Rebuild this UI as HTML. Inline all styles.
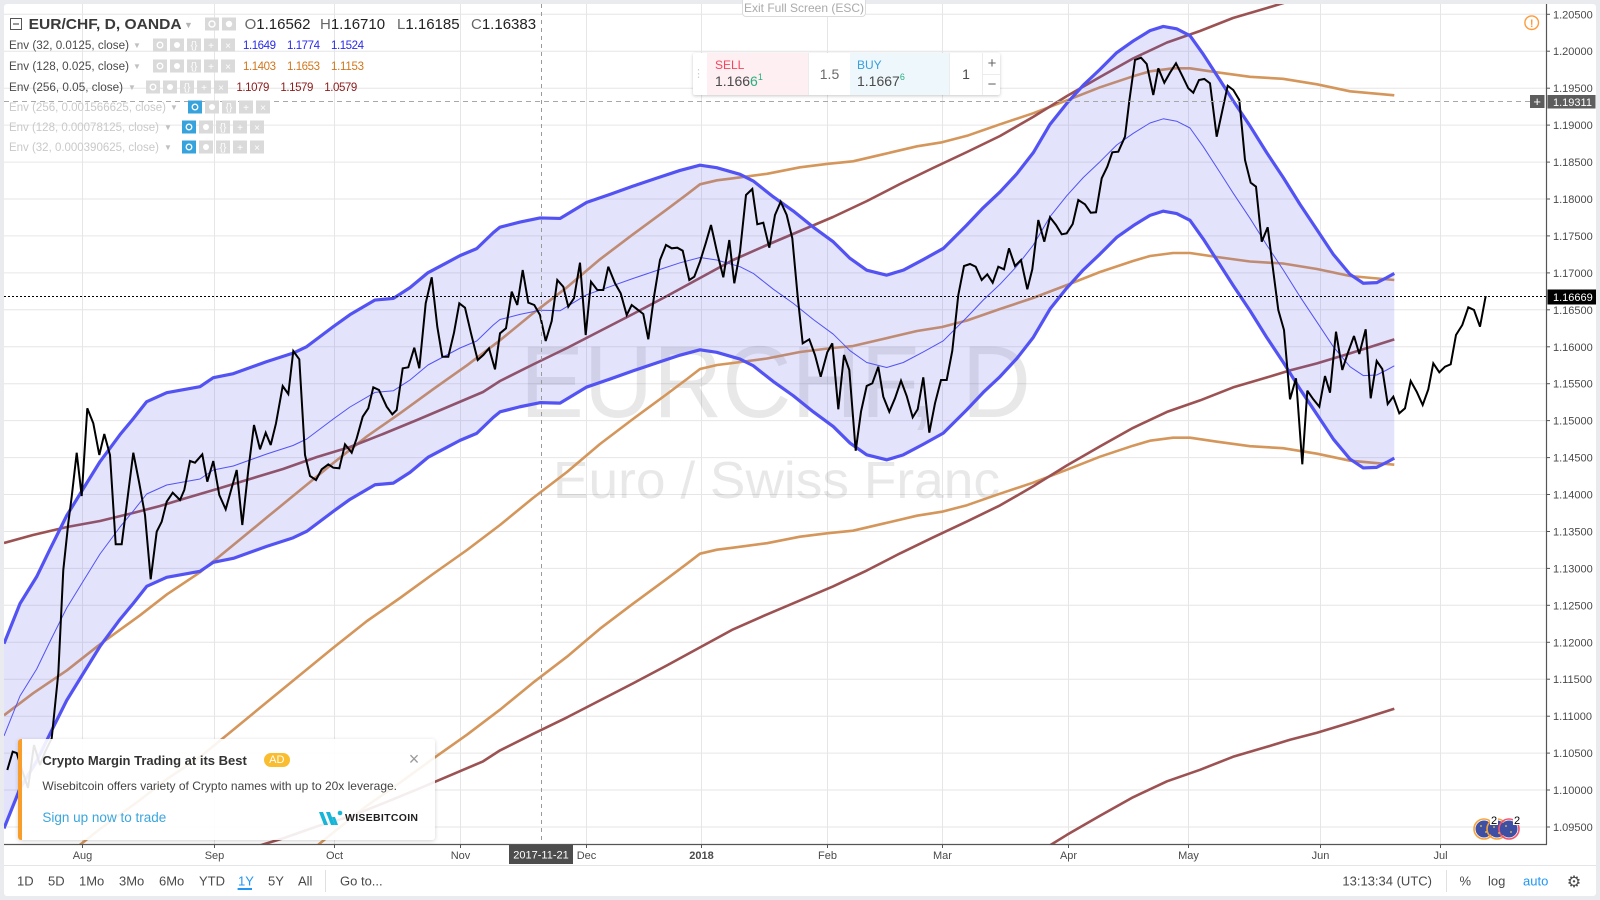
<!DOCTYPE html>
<html><head><meta charset="utf-8"><style>
html,body{margin:0;padding:0;overflow:hidden;}
body{width:1600px;height:900px;background:#e9ebee;position:relative;overflow:hidden;font-family:"Liberation Sans",sans-serif;}
.abs{position:absolute;}
</style></head><body>
<div class="abs" style="left:4px;top:4px;width:1592px;height:892px;background:#fff;border-radius:3px;"></div>

<svg class="abs" style="left:0;top:0;overflow:hidden" width="1600" height="900" font-family="'Liberation Sans', sans-serif">
<defs>
<clipPath id="plot"><rect x="4" y="4" width="1542" height="840"/></clipPath>
<polyline id="blu" fill="none" points="4,736 20,696 36.7,669 50,641.5 66.7,608 83.3,581 100,554 120,527 133.3,511 146.7,494 166.7,485 183.3,482 200,479 213.3,470 233.3,466 266.7,454 293,445.5 306.7,439 333.3,419 350,407 375,392.4 393.3,390.8 410,380 428,365 445,356 460,348 476.7,341 493.3,325 500,319.5 520,314.4 540,310.3 560,310.8 586.7,294.7 610,286.7 633.3,278.4 656.7,270.5 680,262.8 700,257.5 716.7,260 740,266.7 753.3,273.4 773.3,289.2 793.3,303.4 813.3,319.5 833.3,334.2 850,350.7 866.7,362.5 886.7,367.5 903.3,362.5 923.3,351.9 943.3,340.8 966.7,317.5 983.3,300 1000,284.3 1016.7,266.3 1033.3,245 1050,216.7 1066.7,195.8 1083.3,177.5 1100,161.7 1116.7,145 1133.3,133.3 1150,123 1163.3,118.8 1176.7,121.2 1190,128 1203.3,146.7 1220,172.5 1233.3,193.3 1250,218.3 1266.7,245 1283.3,270 1300,296.7 1316.7,321.7 1333.3,346.7 1350,366.7 1363.3,375.6 1376.7,375 1386.7,370 1394.3,365.8"/>
</defs>

<!-- grid -->
<g stroke="#e6e6e6" stroke-width="1">
<line x1="4" x2="1546" y1="14.3" y2="14.3"/><line x1="4" x2="1546" y1="51.2" y2="51.2"/><line x1="4" x2="1546" y1="88.2" y2="88.2"/><line x1="4" x2="1546" y1="125.1" y2="125.1"/><line x1="4" x2="1546" y1="162.1" y2="162.1"/><line x1="4" x2="1546" y1="199" y2="199"/><line x1="4" x2="1546" y1="235.9" y2="235.9"/><line x1="4" x2="1546" y1="272.9" y2="272.9"/><line x1="4" x2="1546" y1="309.8" y2="309.8"/><line x1="4" x2="1546" y1="346.8" y2="346.8"/><line x1="4" x2="1546" y1="383.7" y2="383.7"/><line x1="4" x2="1546" y1="420.6" y2="420.6"/><line x1="4" x2="1546" y1="457.6" y2="457.6"/><line x1="4" x2="1546" y1="494.5" y2="494.5"/><line x1="4" x2="1546" y1="531.5" y2="531.5"/><line x1="4" x2="1546" y1="568.4" y2="568.4"/><line x1="4" x2="1546" y1="605.3" y2="605.3"/><line x1="4" x2="1546" y1="642.3" y2="642.3"/><line x1="4" x2="1546" y1="679.2" y2="679.2"/><line x1="4" x2="1546" y1="716.2" y2="716.2"/><line x1="4" x2="1546" y1="753.1" y2="753.1"/><line x1="4" x2="1546" y1="790" y2="790"/><line x1="4" x2="1546" y1="827" y2="827"/>
<line y1="4" y2="844" x1="82.5" x2="82.5"/><line y1="4" y2="844" x1="214.5" x2="214.5"/><line y1="4" y2="844" x1="334.5" x2="334.5"/><line y1="4" y2="844" x1="460.5" x2="460.5"/><line y1="4" y2="844" x1="586.5" x2="586.5"/><line y1="4" y2="844" x1="701.5" x2="701.5"/><line y1="4" y2="844" x1="827.5" x2="827.5"/><line y1="4" y2="844" x1="942.5" x2="942.5"/><line y1="4" y2="844" x1="1068.5" x2="1068.5"/><line y1="4" y2="844" x1="1188.5" x2="1188.5"/><line y1="4" y2="844" x1="1320.5" x2="1320.5"/><line y1="4" y2="844" x1="1440.5" x2="1440.5"/>
</g>

<g clip-path="url(#plot)">
<!-- watermark -->
<text x="520" y="417" font-size="102" fill="rgba(0,0,0,0.09)" textLength="511" lengthAdjust="spacingAndGlyphs">EURCHF, D</text>
<text x="553" y="498" font-size="52" fill="rgba(0,0,0,0.09)" textLength="447" lengthAdjust="spacingAndGlyphs">Euro / Swiss Franc</text>

<!-- Env128 tan -->
<g stroke="#d4965a" stroke-width="2.6" stroke-linejoin="round" fill="none">
<polyline points="4,715.3 33,693.3 67,670.3 100,644.3 140,615.3 167,594.3 200,572.3 233,545.3 267,517.3 300,490.3 333,463.3 367,436.3 400,413.3 433,389.3 467,365.3 500,340.3 533,313.3 567,287.3 600,259.3 633,234.3 667,209.3 687,194.3 700,184.3 717,180.3 733,178.3 767,173.8 800,167.3 828,163.8 853,161.3 883,154.3 917,146.3 942,142.3 967,135.8 1000,124.3 1033,113.3 1067,100.3 1100,87.3 1133,76.3 1150,71.3 1173,68.3 1190,68.3 1217,72.3 1250,76.8 1283,78.8 1317,84.3 1350,91.3 1394.3,95.3"/>
<polyline points="33,878 67,855 100,829 140,800 167,779 200,757 233,730 267,702 300,675 333,648 367,621 400,598 433,574 467,550 500,525 533,498 567,472 600,444 633,419 667,394 687,379 700,369 717,365 733,363 767,358.5 800,352 828,348.5 853,346 883,339 917,331 942,327 967,320.5 1000,309 1033,298 1067,285 1100,272 1133,261 1150,256 1173,253 1190,253 1217,257 1250,261.5 1283,263.5 1317,269 1350,276 1394.3,280"/>
<polyline points="267,886.7 300,859.7 333,832.7 367,805.7 400,782.7 433,758.7 467,734.7 500,709.7 533,682.7 567,656.7 600,628.7 633,603.7 667,578.7 687,563.7 700,553.7 717,549.7 733,547.7 767,543.2 800,536.7 828,533.2 853,530.7 883,523.7 917,515.7 942,511.7 967,505.2 1000,493.7 1033,482.7 1067,469.7 1100,456.7 1133,445.7 1150,440.7 1173,437.7 1190,437.7 1217,441.7 1250,446.2 1283,448.2 1317,453.7 1350,460.7 1394.3,464.7"/>
</g>
<!-- Env256 brown -->
<g stroke="#9c5252" stroke-width="2.6" stroke-linejoin="round" fill="none">
<polyline points="4,543 33,535 67,527 100,521 133,513 160,506 183,499 217,489 250,479 283,469 317,457 350,447 383,434 417,420 450,406 483,392 500,381 533,364.5 567,348 600,331 633,314 667,296 700,278 733,260 767,245 800,231 833,217 867,201 900,184 933,168 967,152 1000,136 1033,117 1067,96 1100,77 1133,58.5 1167,42.5 1200,31 1233,18 1267,8 1290,1 1310,-4"/>
<polyline points="67,896.4 100,890.4 133,882.4 160,875.4 183,868.4 217,858.4 250,848.4 283,838.4 317,826.4 350,816.4 383,803.4 417,789.4 450,775.4 483,761.4 500,750.4 533,733.9 567,717.4 600,700.4 633,683.4 667,665.4 700,647.4 733,629.4 767,614.4 800,600.4 833,586.4 867,570.4 900,553.4 933,537.4 967,521.4 1000,505.4 1033,486.4 1067,465.4 1100,446.4 1133,427.9 1167,411.9 1200,400.4 1233,387.4 1267,377.4 1290,370.4 1317,363.4 1350,353.4 1394.3,339.4"/>
<polyline points="967,890.8 1000,874.8 1033,855.8 1067,834.8 1100,815.8 1133,797.3 1167,781.3 1200,769.8 1233,756.8 1267,746.8 1290,739.8 1317,732.8 1350,722.8 1394.3,708.8"/>
</g>

<!-- Env32 fill -->
<polygon fill="rgba(88,88,240,0.17)" points="4,643.65 20,603.65 36.7,576.65 50,549.15 66.7,515.65 83.3,488.65 100,461.65 120,434.65 133.3,418.65 146.7,401.65 166.7,392.65 183.3,389.65 200,386.65 213.3,377.65 233.3,373.65 266.7,361.65 293,353.15 306.7,346.65 333.3,326.65 350,314.65 375,300.05 393.3,298.45 410,287.65 428,272.65 445,263.65 460,255.65 476.7,248.65 493.3,232.65 500,227.15 520,222.05 540,217.95 560,218.45 586.7,202.35 610,194.35 633.3,186.05 656.7,178.15 680,170.45 700,165.15 716.7,167.65 740,174.35 753.3,181.05 773.3,196.85 793.3,211.05 813.3,227.15 833.3,241.85 850,258.35 866.7,270.15 886.7,275.15 903.3,270.15 923.3,259.55 943.3,248.45 966.7,225.15 983.3,207.65 1000,191.95 1016.7,173.95 1033.3,152.65 1050,124.35 1066.7,103.45 1083.3,85.15 1100,69.35 1116.7,52.65 1133.3,40.95 1150,30.65 1163.3,26.45 1176.7,28.85 1190,35.65 1203.3,54.35 1220,80.15 1233.3,100.95 1250,125.95 1266.7,152.65 1283.3,177.65 1300,204.35 1316.7,229.35 1333.3,254.35 1350,274.35 1363.3,283.25 1376.7,282.65 1386.7,277.65 1394.3,273.45 1394.3,458.15 1386.7,462.35 1376.7,467.35 1363.3,467.95 1350,459.05 1333.3,439.05 1316.7,414.05 1300,389.05 1283.3,362.35 1266.7,337.35 1250,310.65 1233.3,285.65 1220,264.85 1203.3,239.05 1190,220.35 1176.7,213.55 1163.3,211.15 1150,215.35 1133.3,225.65 1116.7,237.35 1100,254.05 1083.3,269.85 1066.7,288.15 1050,309.05 1033.3,337.35 1016.7,358.65 1000,376.65 983.3,392.35 966.7,409.85 943.3,433.15 923.3,444.25 903.3,454.85 886.7,459.85 866.7,454.85 850,443.05 833.3,426.55 813.3,411.85 793.3,395.75 773.3,381.55 753.3,365.75 740,359.05 716.7,352.35 700,349.85 680,355.15 656.7,362.85 633.3,370.75 610,379.05 586.7,387.05 560,403.15 540,402.65 520,406.75 500,411.85 493.3,417.35 476.7,433.35 460,440.35 445,448.35 428,457.35 410,472.35 393.3,483.15 375,484.75 350,499.35 333.3,511.35 306.7,531.35 293,537.85 266.7,546.35 233.3,558.35 213.3,562.35 200,571.35 183.3,574.35 166.7,577.35 146.7,586.35 133.3,603.35 120,619.35 100,646.35 83.3,673.35 66.7,700.35 50,733.85 36.7,761.35 20,788.35 4,828.35"/>
<!-- Env32 lines -->
<g stroke="#5353f4" stroke-linejoin="round">
<use href="#blu" stroke-width="1"/>
<use href="#blu" stroke-width="3.2" transform="translate(0,-92.35)"/>
<use href="#blu" stroke-width="3.2" transform="translate(0,92.35)"/>
</g>

<!-- price -->
<polyline fill="none" stroke="#000" stroke-width="2" stroke-linejoin="miter" stroke-miterlimit="3" points="7.3,770 12.7,751.7 16.7,753 22,770 28,788 34,745 40,765 45,752 51.7,738.3 58.3,673.3 63.3,570 68.3,523 71.7,496.7 76.7,452.7 81.7,496 87.3,408.3 93.3,423.3 99.3,455 104.3,434 110,455 115.7,544.3 121.7,544.3 133.3,452.7 139.3,483.3 145,515 150.7,579.3 156.7,531.7 161.7,521.7 166.7,501.7 172.7,492.7 180,500 184.3,490 190,461 195,462.7 202.3,454.3 207.3,481.7 213.3,461 219.3,495 225.7,509.3 236.7,470 242.3,525 248.3,470 254,425 260,449.3 265.7,432.7 270.7,445 276,423.3 282.7,386 288.3,394 293.3,351 299.3,359.3 305,455 310,476 316,480 321.7,469.3 328.3,464.3 333.3,467.7 339.3,468.3 345,444.3 351.7,452.7 356.7,438.3 362.7,416.7 368.3,408.3 373.3,387.3 379,390 386.7,406.7 392.3,414.3 396.7,410 402.7,368.3 408.3,367.3 414.3,347.7 419.3,368.3 425.7,303.3 431.7,277.3 437.3,326.7 442.3,356.7 448.3,356.7 454,332.7 459.3,303.3 465,307.7 471,333.3 477.7,360 483.3,355 489,348.3 495,369.3 500,333.3 506,328.3 511.7,291.7 517.3,305 522.7,270 528.3,302.7 534.3,305 540,315 545.7,341 551.7,321 557.3,280 563.3,286.7 568.3,306.7 574,298.3 580,262.7 585.7,335 591,281.7 597.3,290 603.3,290 608.3,266.7 615,283.3 620.7,293.3 626.7,315 631.7,305 643.3,314 648.3,339.3 654,296.7 660,260 666,245 671.7,248.3 677.3,247.7 682.7,250.7 689.3,280 694.3,276.7 700,261.7 705.7,243.3 711,225 717.3,253.3 723.3,277.3 729.3,240 734.3,283.3 740,251.7 746,195 752.3,189 757.3,224.3 763.3,222.7 769.3,247.7 775,215 780.7,201.7 786.7,215 792.3,238.3 797.7,296.7 802.7,343.3 809.3,339.3 815,355 820.7,376.7 827.3,352.3 832.3,343.3 838.3,409.3 844,355 849.3,370 855.7,450.7 861,411.7 866.7,386 872.3,383.3 878.3,366.7 883.3,396.7 889.3,411.7 895,398.3 901,380.7 906.7,396 912.7,417.3 917.7,409.3 923.3,377.3 929.3,432.7 935,403.3 941,380 946.7,380 952.3,350.7 958.3,295 964,266 970,264 975.7,266.7 981.7,280 987.3,274.3 992.7,282.7 998.3,266.7 1004,269.3 1009,248.3 1015,266 1021,260 1027.3,289.3 1032.3,269.3 1038.3,220 1044.3,241.7 1050,217.3 1056,225 1061.7,234.3 1066.7,233.3 1072.7,224 1078.3,200 1085,204.3 1090.7,212.7 1096,212.3 1101.7,178.3 1107.3,166.7 1112.3,152.3 1118.3,151.7 1125,136.7 1129.3,101 1135,60 1141,57.7 1146.7,64 1153.3,95 1158.3,68.3 1164.3,82.7 1170,72.7 1176,63.3 1182.7,76.7 1188.3,88.3 1193.3,92.7 1199,80 1204.3,79 1210,83.3 1216.7,136.7 1227.7,85.7 1233.3,90 1239.3,100 1245,160 1250.7,182.7 1256,186.7 1261.7,241.7 1267.7,227.3 1272.7,266.7 1278.3,310 1284,330 1290,399.3 1296,378.3 1302.3,464.3 1307.3,390.7 1313.3,399.3 1319.3,406.7 1325,376 1330,392.7 1336,331.7 1342.3,370 1347.7,353.3 1354,336 1359.3,354 1365.7,329.3 1370.7,398.3 1376.7,361 1382.3,369 1387.7,404 1393.3,396.7 1399.3,413.3 1405,408.3 1410.7,381 1416.7,391.7 1422.7,405 1428.3,389.3 1433.3,363.3 1439.3,372.3 1445,366.7 1450.7,364.3 1456,335 1462.3,325 1468.3,307.3 1474,310 1480,326.7 1485.7,296"/>

<!-- crosshair & price lines -->
<line x1="541.5" x2="541.5" y1="4" y2="844" stroke="#9a9a9a" stroke-width="1" stroke-dasharray="4 4"/>
<line x1="4" x2="1530" y1="101.5" y2="101.5" stroke="#a8a8a8" stroke-width="1" stroke-dasharray="5 4"/>
<line x1="4" x2="1546" y1="296.5" y2="296.5" stroke="#000" stroke-width="1" stroke-dasharray="2 2"/>

<!-- event icons -->
<circle cx="1484" cy="829" r="8.5" fill="#3f4fa3"/><circle cx="1484" cy="829" r="10" fill="none" stroke="#f7a23a" stroke-width="1.6"/>
<circle cx="1497" cy="829" r="8.5" fill="#3f4fa3"/><circle cx="1497" cy="829" r="10" fill="none" stroke="#f7a23a" stroke-width="1.6"/>
<circle cx="1509" cy="829" r="8.5" fill="#3f4fa3"/><circle cx="1509" cy="829" r="10" fill="none" stroke="#f2536d" stroke-width="1.6"/>
<g fill="#f2d03a"><circle cx="1481" cy="826" r="0.9"/><circle cx="1486" cy="832" r="0.9"/><circle cx="1494" cy="827" r="0.9"/><circle cx="1499" cy="833" r="0.9"/><circle cx="1506" cy="826" r="0.9"/><circle cx="1511" cy="832" r="0.9"/></g>
<rect x="1490" y="815" width="8" height="10" fill="#fff"/><text x="1491" y="824" font-size="11" fill="#000">2</text>
<rect x="1513" y="815" width="8" height="10" fill="#fff"/><text x="1514" y="824" font-size="11" fill="#000">2</text>
</g>

<!-- warning icon -->
<circle cx="1531.7" cy="22.7" r="6.8" fill="none" stroke="#ff9a3c" stroke-width="1.4"/>
<text x="1531.7" y="27" font-size="11" font-weight="bold" fill="#ff9a3c" text-anchor="middle">!</text>

<!-- axes -->
<line x1="1546.5" x2="1546.5" y1="4" y2="844.5" stroke="#555" stroke-width="1.2"/>
<line x1="4" x2="1547" y1="844.5" y2="844.5" stroke="#555" stroke-width="1.2"/>
<line x1="4" x2="1596" y1="865.5" y2="865.5" stroke="#e3e5e8" stroke-width="1"/>

<!-- price ticks & labels -->
<g stroke="#555" stroke-width="1">
<line x1="1546" x2="1550" y1="14.3" y2="14.3"/><line x1="1546" x2="1550" y1="51.2" y2="51.2"/><line x1="1546" x2="1550" y1="88.2" y2="88.2"/><line x1="1546" x2="1550" y1="125.1" y2="125.1"/><line x1="1546" x2="1550" y1="162.1" y2="162.1"/><line x1="1546" x2="1550" y1="199" y2="199"/><line x1="1546" x2="1550" y1="235.9" y2="235.9"/><line x1="1546" x2="1550" y1="272.9" y2="272.9"/><line x1="1546" x2="1550" y1="309.8" y2="309.8"/><line x1="1546" x2="1550" y1="346.8" y2="346.8"/><line x1="1546" x2="1550" y1="383.7" y2="383.7"/><line x1="1546" x2="1550" y1="420.6" y2="420.6"/><line x1="1546" x2="1550" y1="457.6" y2="457.6"/><line x1="1546" x2="1550" y1="494.5" y2="494.5"/><line x1="1546" x2="1550" y1="531.5" y2="531.5"/><line x1="1546" x2="1550" y1="568.4" y2="568.4"/><line x1="1546" x2="1550" y1="605.3" y2="605.3"/><line x1="1546" x2="1550" y1="642.3" y2="642.3"/><line x1="1546" x2="1550" y1="679.2" y2="679.2"/><line x1="1546" x2="1550" y1="716.2" y2="716.2"/><line x1="1546" x2="1550" y1="753.1" y2="753.1"/><line x1="1546" x2="1550" y1="790" y2="790"/><line x1="1546" x2="1550" y1="827" y2="827"/>
</g>
<g font-size="11" fill="#4a4a4a">
<text x="1553" y="18.3">1.20500</text><text x="1553" y="55.2">1.20000</text><text x="1553" y="92.2">1.19500</text><text x="1553" y="129.1">1.19000</text><text x="1553" y="166.1">1.18500</text><text x="1553" y="203">1.18000</text><text x="1553" y="239.9">1.17500</text><text x="1553" y="276.9">1.17000</text><text x="1553" y="313.8">1.16500</text><text x="1553" y="350.8">1.16000</text><text x="1553" y="387.7">1.15500</text><text x="1553" y="424.6">1.15000</text><text x="1553" y="461.6">1.14500</text><text x="1553" y="498.5">1.14000</text><text x="1553" y="535.5">1.13500</text><text x="1553" y="572.4">1.13000</text><text x="1553" y="609.3">1.12500</text><text x="1553" y="646.3">1.12000</text><text x="1553" y="683.2">1.11500</text><text x="1553" y="720.2">1.11000</text><text x="1553" y="757.1">1.10500</text><text x="1553" y="794">1.10000</text><text x="1553" y="831">1.09500</text>
</g>
<rect x="1530" y="95" width="14.5" height="13" fill="#5d5d5d"/>
<text x="1537.2" y="106" font-size="13" fill="#fff" text-anchor="middle">+</text>
<rect x="1547.5" y="95" width="48" height="13.5" fill="#5d5d5d"/>
<text x="1553" y="106" font-size="11" fill="#fff">1.19311</text>
<rect x="1547.5" y="289.5" width="48.5" height="15" fill="#000"/>
<text x="1553" y="301" font-size="11" fill="#fff">1.16669</text>

<!-- time axis -->
<g stroke="#555" stroke-width="1">
<line x1="82.5" x2="82.5" y1="844" y2="848"/><line x1="214.5" x2="214.5" y1="844" y2="848"/><line x1="334.5" x2="334.5" y1="844" y2="848"/><line x1="460.5" x2="460.5" y1="844" y2="848"/><line x1="586.5" x2="586.5" y1="844" y2="848"/><line x1="701.5" x2="701.5" y1="844" y2="848"/><line x1="827.5" x2="827.5" y1="844" y2="848"/><line x1="942.5" x2="942.5" y1="844" y2="848"/><line x1="1068.5" x2="1068.5" y1="844" y2="848"/><line x1="1188.5" x2="1188.5" y1="844" y2="848"/><line x1="1320.5" x2="1320.5" y1="844" y2="848"/><line x1="1440.5" x2="1440.5" y1="844" y2="848"/>
</g>
<g font-size="11" fill="#4a4a4a" text-anchor="middle">
<text x="82.5" y="859">Aug</text><text x="214.5" y="859">Sep</text><text x="334.5" y="859">Oct</text><text x="460.5" y="859">Nov</text><text x="586.5" y="859">Dec</text><text x="701.5" y="859" font-weight="bold">2018</text><text x="827.5" y="859">Feb</text><text x="942.5" y="859">Mar</text><text x="1068.5" y="859">Apr</text><text x="1188.5" y="859">May</text><text x="1320.5" y="859">Jun</text><text x="1440.5" y="859">Jul</text>
</g>
<rect x="509" y="845" width="64" height="19" fill="#4d4d4d"/>
<text x="541" y="858.5" font-size="11" fill="#fff" text-anchor="middle">2017-11-21</text>

<!-- bottom toolbar -->
<g font-size="13" fill="#4a4a4a">
<text x="17" y="885.5">1D</text><text x="48" y="885.5">5D</text><text x="79" y="885.5">1Mo</text><text x="119" y="885.5">3Mo</text><text x="159" y="885.5">6Mo</text><text x="199" y="885.5">YTD</text><text x="238" y="885.5" fill="#2196f3">1Y</text><text x="268" y="885.5">5Y</text><text x="298" y="885.5">All</text><text x="340" y="885.5">Go to...</text>
<text x="1342.4" y="885.5">13:13:34 (UTC)</text><text x="1459.5" y="885.5">%</text><text x="1488" y="885.5">log</text><text x="1523" y="885.5" fill="#2196f3">auto</text>
</g>
<rect x="237.6" y="888" width="14.4" height="2" fill="#2196f3"/>
<line x1="325.5" x2="325.5" y1="870" y2="892" stroke="#e0e0e0"/>
<line x1="1446.5" x2="1446.5" y1="870" y2="892" stroke="#e0e0e0"/>
<text x="1574" y="887" font-size="16" fill="#4a4a4a" text-anchor="middle" font-family="'DejaVu Sans', sans-serif">⚙</text>

<!-- header legend -->
<rect x="10.5" y="18.5" width="11" height="11" fill="none" stroke="#555" stroke-width="1"/>
<line x1="13" x2="19" y1="24" y2="24" stroke="#555" stroke-width="1.2"/>
<text x="28.6" y="29" font-size="15" font-weight="bold" fill="#3a3a3a" textLength="153" lengthAdjust="spacingAndGlyphs">EUR/CHF, D, OANDA</text>
<text x="184" y="28" font-size="9" fill="#b5b5b5">▼</text>
<rect x="205" y="17.5" width="14" height="13" fill="#d9d9d9"/><circle cx="212" cy="24" r="3" fill="none" stroke="#fff" stroke-width="1.4"/>
<rect x="222" y="17.5" width="14" height="13" fill="#d9d9d9"/><circle cx="229" cy="24" r="3.2" fill="#fff"/>
<text x="244.6" y="29" font-size="15"><tspan fill="#666">O</tspan><tspan fill="#222">1.16562</tspan></text>
<text x="320" y="29" font-size="15"><tspan fill="#666">H</tspan><tspan fill="#222">1.16710</tspan></text>
<text x="397" y="29" font-size="15"><tspan fill="#666">L</tspan><tspan fill="#222">1.16185</tspan></text>
<text x="471" y="29" font-size="15"><tspan fill="#666">C</tspan><tspan fill="#222">1.16383</tspan></text>

<g font-size="11.5">
<text x="9" y="49" fill="#4a4a4a" textLength="120" lengthAdjust="spacingAndGlyphs">Env (32, 0.0125, close)</text>
<text x="9" y="70" fill="#4a4a4a" textLength="120" lengthAdjust="spacingAndGlyphs">Env (128, 0.025, close)</text>
<text x="9" y="91" fill="#4a4a4a" textLength="114" lengthAdjust="spacingAndGlyphs">Env (256, 0.05, close)</text>
<text x="9" y="111" fill="#c9c9c9" textLength="157" lengthAdjust="spacingAndGlyphs">Env (256, 0.001566625, close)</text>
<text x="9" y="131" fill="#c9c9c9" textLength="150" lengthAdjust="spacingAndGlyphs">Env (128, 0.00078125, close)</text>
<text x="9" y="151" fill="#c9c9c9" textLength="150" lengthAdjust="spacingAndGlyphs">Env (32, 0.000390625, close)</text>
</g>
<g font-size="8" fill="#c0c0c0">
<text x="133" y="48">▼</text><text x="133" y="69">▼</text><text x="128" y="90">▼</text><text x="170" y="110">▼</text><text x="164" y="130">▼</text><text x="164" y="150">▼</text>
</g>
<g fill="#dadada">
<rect x="153" y="38.5" width="14" height="13"/><rect x="170" y="38.5" width="14" height="13"/><rect x="187" y="38.5" width="14" height="13"/><rect x="204" y="38.5" width="14" height="13"/><rect x="221" y="38.5" width="14" height="13"/>
<rect x="153" y="59.5" width="14" height="13"/><rect x="170" y="59.5" width="14" height="13"/><rect x="187" y="59.5" width="14" height="13"/><rect x="204" y="59.5" width="14" height="13"/><rect x="221" y="59.5" width="14" height="13"/>
<rect x="146" y="80.5" width="14" height="13"/><rect x="163" y="80.5" width="14" height="13"/><rect x="180" y="80.5" width="14" height="13"/><rect x="197" y="80.5" width="14" height="13"/><rect x="214" y="80.5" width="14" height="13"/>
<rect x="205" y="100.5" width="14" height="13"/><rect x="222" y="100.5" width="14" height="13"/><rect x="239" y="100.5" width="14" height="13"/><rect x="256" y="100.5" width="14" height="13"/>
<rect x="199" y="120.5" width="14" height="13"/><rect x="216" y="120.5" width="14" height="13"/><rect x="233" y="120.5" width="14" height="13"/><rect x="250" y="120.5" width="14" height="13"/>
<rect x="199" y="140.5" width="14" height="13"/><rect x="216" y="140.5" width="14" height="13"/><rect x="233" y="140.5" width="14" height="13"/><rect x="250" y="140.5" width="14" height="13"/>
</g>
<g fill="#37a3dc">
<rect x="188" y="100.5" width="14" height="13"/><rect x="182" y="120.5" width="14" height="13"/><rect x="182" y="140.5" width="14" height="13"/>
</g>
<g fill="none" stroke="#fff" stroke-width="1.3">
<circle cx="160" cy="45" r="2.8"/><circle cx="160" cy="66" r="2.8"/><circle cx="153" cy="87" r="2.8"/><circle cx="195" cy="107" r="2.8"/><circle cx="189" cy="127" r="2.8"/><circle cx="189" cy="147" r="2.8"/>
</g>
<g fill="#fff">
<circle cx="177" cy="45" r="3"/><circle cx="177" cy="66" r="3"/><circle cx="170" cy="87" r="3"/><circle cx="212" cy="107" r="3"/><circle cx="206" cy="127" r="3"/><circle cx="206" cy="147" r="3"/>
</g>
<g font-size="10" fill="#fff" text-anchor="middle">
<text x="194" y="48.5">{}</text><text x="211" y="49">+</text><text x="228" y="49">×</text>
<text x="194" y="69.5">{}</text><text x="211" y="70">+</text><text x="228" y="70">×</text>
<text x="187" y="90.5">{}</text><text x="204" y="91">+</text><text x="221" y="91">×</text>
<text x="229" y="110.5">{}</text><text x="246" y="111">+</text><text x="263" y="111">×</text>
<text x="223" y="130.5">{}</text><text x="240" y="131">+</text><text x="257" y="131">×</text>
<text x="223" y="150.5">{}</text><text x="240" y="151">+</text><text x="257" y="151">×</text>
</g>
<g font-size="11.5">
<text x="243" y="49" fill="#2b2be6" textLength="33">1.1649</text><text x="287" y="49" fill="#2b2be6" textLength="33">1.1774</text><text x="331" y="49" fill="#2b2be6" textLength="33">1.1524</text>
<text x="243" y="70" fill="#d0761c" textLength="33">1.1403</text><text x="287" y="70" fill="#d0761c" textLength="33">1.1653</text><text x="331" y="70" fill="#d0761c" textLength="33">1.1153</text>
<text x="236.4" y="91" fill="#8b1a1a" textLength="33">1.1079</text><text x="280.4" y="91" fill="#8b1a1a" textLength="33">1.1579</text><text x="324.3" y="91" fill="#8b1a1a" textLength="33">1.0579</text>
</g>
</svg>

<!-- Exit full screen tab -->
<div class="abs" style="left:742px;top:0px;width:122px;height:16px;background:#fff;border:1px solid #dcdcdc;border-top:none;border-radius:0 0 4px 4px;color:#aaa;font-size:12px;line-height:17px;text-align:center;">Exit Full Screen (ESC)</div>

<!-- trading widget -->
<div class="abs" style="left:693px;top:53px;width:307px;height:42px;background:#fff;box-shadow:0 1px 3px rgba(0,0,0,0.22);border-radius:2px;overflow:hidden;">
  <div class="abs" style="left:0;top:0;width:14px;height:42px;color:#cfcfcf;font-size:11px;line-height:42px;text-align:center;letter-spacing:-2px;">⋮⋮</div>
  <div class="abs" style="left:14px;top:0;width:101px;height:42px;background:#fdeff2;">
    <div class="abs" style="left:8px;top:5px;font-size:12px;line-height:14px;color:#f5455c;">SELL</div>
    <div class="abs" style="left:8px;top:20px;font-size:14px;line-height:16px;color:#4a4a4a;">1.166<span style="color:#26b07e">6</span><sup style="color:#26b07e;font-size:9px;vertical-align:6px;line-height:0">1</sup></div>
  </div>
  <div class="abs" style="left:115px;top:0;width:41px;height:42px;border-left:1px solid #ececec;border-right:1px solid #ececec;color:#6a6a6a;font-size:14px;line-height:42px;text-align:center;">1.5</div>
  <div class="abs" style="left:157px;top:0;width:99px;height:42px;background:#eef7fc;">
    <div class="abs" style="left:7px;top:5px;font-size:12px;line-height:14px;color:#3a9fdb;">BUY</div>
    <div class="abs" style="left:7px;top:20px;font-size:14px;line-height:16px;color:#4a4a4a;">1.1667<sup style="color:#26b07e;font-size:9px;vertical-align:6px;line-height:0">6</sup></div>
  </div>
  <div class="abs" style="left:256px;top:0;width:32px;height:42px;border-left:1px solid #ececec;color:#4a4a4a;font-size:14px;line-height:42px;text-align:center;">1</div>
  <div class="abs" style="left:289px;top:0;width:18px;height:42px;border-left:1px solid #ececec;">
    <div style="height:21px;border-bottom:1px solid #ececec;color:#666;font-size:15px;line-height:21px;text-align:center;">+</div>
    <div style="height:20px;color:#666;font-size:15px;line-height:20px;text-align:center;">−</div>
  </div>
</div>

<!-- ad popup -->
<div class="abs" style="left:18px;top:739px;width:417px;height:101px;background:rgba(255,255,255,0.9);box-shadow:0 1px 4px rgba(0,0,0,0.18);border-radius:3px;">
  <div class="abs" style="left:0;top:0;width:4px;height:101px;background:#f89c2a;border-radius:3px 0 0 3px;"></div>
  <div class="abs" style="left:24.4px;top:13.7px;font-size:13px;font-weight:bold;line-height:16px;color:#333;white-space:nowrap;">Crypto Margin Trading at its Best</div>
  <div class="abs" style="left:245.5px;top:14.3px;width:26.5px;height:14px;background:#f9bd2f;border-radius:7px;color:#fff;font-size:11px;line-height:14px;text-align:center;">AD</div>
  <div class="abs" style="left:388px;top:10px;width:16px;font-size:18px;line-height:20px;color:#9a9a9a;text-align:center;">×</div>
  <div class="abs" style="left:24.4px;top:38.7px;font-size:12px;line-height:16px;color:#444;white-space:nowrap;">Wisebitcoin offers variety of Crypto names with up to 20x leverage.</div>
  <div class="abs" style="left:24.4px;top:71px;font-size:13.5px;line-height:16px;color:#3aa6de;white-space:nowrap;">Sign up now to trade</div>
  <svg class="abs" style="left:300px;top:70px" width="26" height="18">
    <polygon points="1,3 5,3 10,16 6,16" fill="#17b6d8"/>
    <polygon points="8,3 12,3 17,16 13,16" fill="#17b6d8"/>
    <polygon points="14,8 17,8 20,16 17,16" fill="#17b6d8"/>
    <circle cx="22" cy="4" r="2.3" fill="#17b6d8"/>
  </svg>
  <div class="abs" style="left:327px;top:72px;font-size:10.5px;font-weight:bold;line-height:14px;color:#1f1f1f;letter-spacing:0.3px;white-space:nowrap;">WISEBITCOIN</div>
</div>

</body></html>
